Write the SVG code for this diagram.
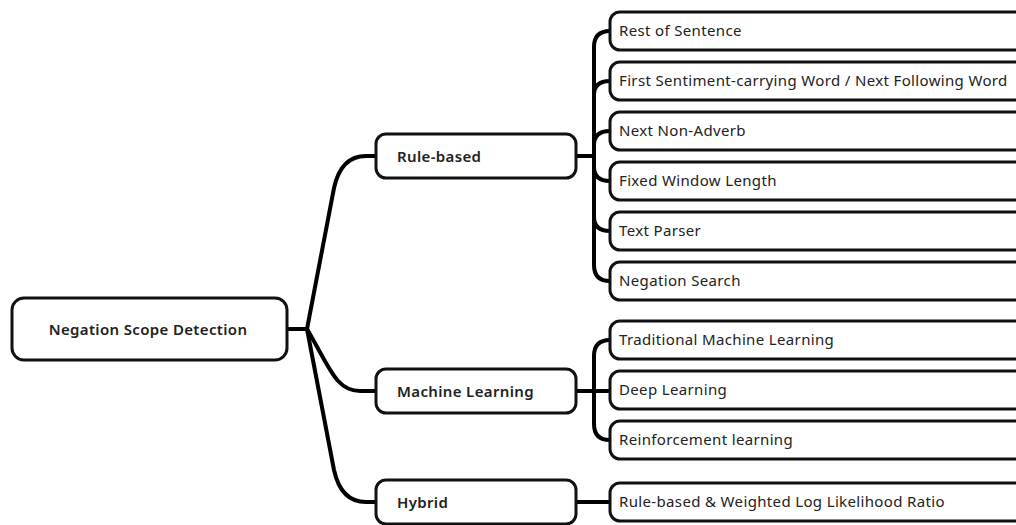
<svg xmlns="http://www.w3.org/2000/svg" width="1016" height="525" viewBox="0 0 1016 525">
  <style>
    .box { fill: #ffffff; stroke: #111111; stroke-width: 3; }
    .link { fill: none; stroke: #000000; stroke-width: 4; stroke-linecap: round; stroke-linejoin: round; }
    .t { font-family: "Noto Sans", "Liberation Sans", sans-serif; font-size: 15px; letter-spacing: 0.35px; fill: #222222; dominant-baseline: central; }
    .b { font-weight: 600; }
  </style>
  <rect width="1016" height="525" fill="#ffffff"/>

  <!-- connectors -->
  <g id="connectors">
    <!-- root to categories -->
    <path class="link" d="M287 329 L307 329"/>
    <path class="link" d="M307 329 L334 188 Q341 156 366 156 L376 156"/>
    <path class="link" d="M307 329 C330 368 336 391 360 391 L376 391"/>
    <path class="link" d="M307 329 L334 470 Q341 502 366 502 L376 502"/>
    <!-- Rule-based bracket -->
    <path class="link" d="M576 156 L594 156"/>
    <path class="link" d="M610 31 Q594 31 594 47 L594 265 Q594 281 610 281"/>
    <path class="link" d="M594 95 Q594 81 610 81"/>
    <path class="link" d="M594 145 Q594 131 610 131"/>
    <path class="link" d="M594 167 Q594 181 610 181"/>
    <path class="link" d="M594 217 Q594 231 610 231"/>
    <!-- Machine Learning bracket -->
    <path class="link" d="M576 391 L610 391"/>
    <path class="link" d="M610 340 Q594 340 594 356 L594 424 Q594 440 610 440"/>
    <!-- Hybrid -->
    <path class="link" d="M576 502 L610 502"/>
  </g>

  <!-- root -->
  <g id="root">
    <rect class="box" x="12" y="298" width="275" height="62" rx="12"/>
    <text class="t b" x="148" y="329" text-anchor="middle">Negation Scope Detection</text>
  </g>

  <!-- categories -->
  <g id="rule-based">
    <rect class="box" x="376" y="134" width="200" height="44" rx="10"/>
    <text class="t b" x="397" y="156">Rule-based</text>
  </g>
  <g id="machine-learning">
    <rect class="box" x="376" y="369" width="200" height="44" rx="10"/>
    <text class="t b" x="397" y="391">Machine Learning</text>
  </g>
  <g id="hybrid">
    <rect class="box" x="376" y="480" width="200" height="44" rx="10"/>
    <text class="t b" x="397" y="502">Hybrid</text>
  </g>

  <!-- leaves -->
  <g id="rest-of-sentence">
    <rect class="box" x="610" y="12" width="420" height="38" rx="10"/>
    <text class="t" x="619" y="30">Rest of Sentence</text>
  </g>
  <g id="first-sentiment-word">
    <rect class="box" x="610" y="62" width="420" height="38" rx="10"/>
    <text class="t" x="619" y="80">First Sentiment-carrying Word / Next Following Word</text>
  </g>
  <g id="next-non-adverb">
    <rect class="box" x="610" y="112" width="420" height="38" rx="10"/>
    <text class="t" x="619" y="130">Next Non-Adverb</text>
  </g>
  <g id="fixed-window-length">
    <rect class="box" x="610" y="162" width="420" height="38" rx="10"/>
    <text class="t" x="619" y="180">Fixed Window Length</text>
  </g>
  <g id="text-parser">
    <rect class="box" x="610" y="212" width="420" height="38" rx="10"/>
    <text class="t" x="619" y="230">Text Parser</text>
  </g>
  <g id="negation-search">
    <rect class="box" x="610" y="262" width="420" height="38" rx="10"/>
    <text class="t" x="619" y="280">Negation Search</text>
  </g>
  <g id="traditional-ml">
    <rect class="box" x="610" y="321" width="420" height="38" rx="10"/>
    <text class="t" x="619" y="339">Traditional Machine Learning</text>
  </g>
  <g id="deep-learning">
    <rect class="box" x="610" y="371" width="420" height="38" rx="10"/>
    <text class="t" x="619" y="389">Deep Learning</text>
  </g>
  <g id="reinforcement-learning">
    <rect class="box" x="610" y="421" width="420" height="38" rx="10"/>
    <text class="t" x="619" y="439">Reinforcement learning</text>
  </g>
  <g id="rule-based-wllr">
    <rect class="box" x="610" y="483" width="420" height="38" rx="10"/>
    <text class="t" x="619" y="501">Rule-based &amp; Weighted Log Likelihood Ratio</text>
  </g>
</svg>
